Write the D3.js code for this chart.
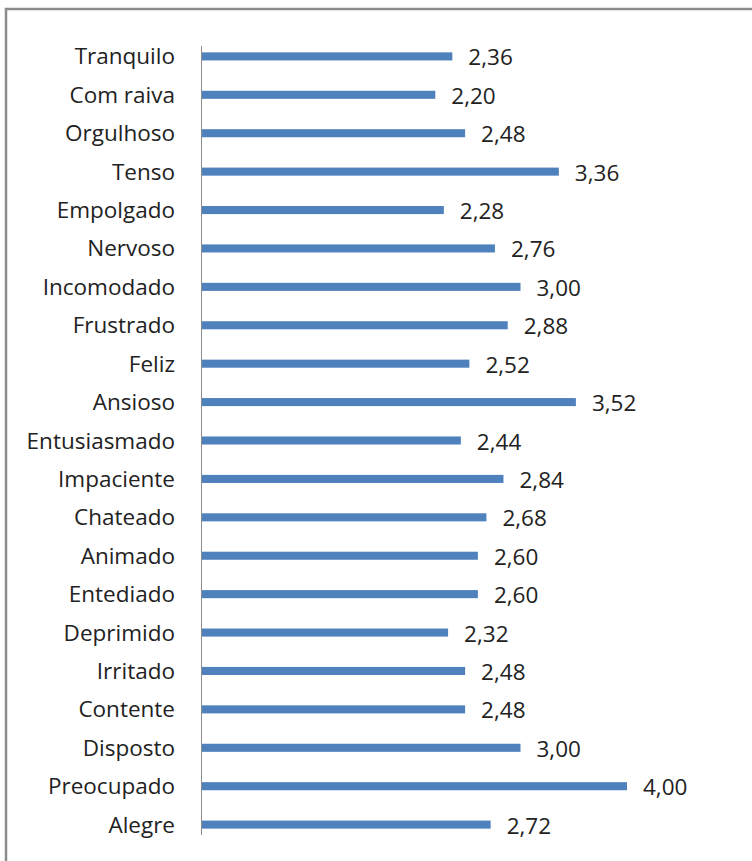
<!DOCTYPE html>
<html>
<head>
<meta charset="utf-8">
<script src="https://cdn.jsdelivr.net/npm/d3@7"></script>
<style>
  html, body { margin: 0; padding: 0; background: #fff; }
  svg { display: block; }
  text { font-family: "Open Sans", Lato, sans-serif; fill: #222; }
</style>
</head>
<body>
<script>
// Emotion categories (top to bottom) and their mean scores
const categories = [
  "Tranquilo", "Com raiva", "Orgulhoso", "Tenso", "Empolgado", "Nervoso",
  "Incomodado", "Frustrado", "Feliz", "Ansioso", "Entusiasmado", "Impaciente",
  "Chateado", "Animado", "Entediado", "Deprimido", "Irritado", "Contente",
  "Disposto", "Preocupado", "Alegre"
];
const values = [
  2.36, 2.20, 2.48, 3.36, 2.28, 2.76,
  3.00, 2.88, 2.52, 3.52, 2.44, 2.84,
  2.68, 2.60, 2.60, 2.32, 2.48, 2.48,
  3.00, 4.00, 2.72
];

const W = 752, H = 861;
const svg = d3.select("body").append("svg").attr("width", W).attr("height", H);

// Chart frame (right and bottom edges fall outside the view)
svg.append("rect")
  .attr("x", 6).attr("y", 9)
  .attr("width", W + 20).attr("height", H + 20)
  .attr("fill", "#fff")
  .attr("stroke", "#8c8c8c").attr("stroke-width", 2.5);

const x0 = 201;
const x = d3.scaleLinear().domain([0, 4]).range([x0, 627]);
const y = d3.scaleBand().domain(categories).range([37, 844]).paddingInner(0.79).paddingOuter(0.4);

const fmt = v => d3.format(".2f")(v).replace(".", ",");

// Bars
svg.append("g").selectAll("rect")
  .data(values)
  .join("rect")
  .attr("x", x(0))
  .attr("y", (d, i) => y(categories[i]))
  .attr("width", d => x(d) - x(0))
  .attr("height", y.bandwidth())
  .attr("fill", "#4f81bd");

// Category axis line
svg.append("line")
  .attr("x1", x0 + 0.5).attr("x2", x0 + 0.5)
  .attr("y1", 46).attr("y2", 835)
  .attr("stroke", "#8c8c8c").attr("stroke-width", 1);

// Category labels
svg.append("g").selectAll("text")
  .data(categories)
  .join("text")
  .attr("x", 175)
  .attr("y", d => y(d) + y.bandwidth() / 2 + 8)
  .attr("text-anchor", "end")
  .attr("font-size", 22.5)
  .text(d => d);

// Value labels
svg.append("g").selectAll("text")
  .data(values)
  .join("text")
  .attr("x", d => x(d) + 16)
  .attr("y", (d, i) => y(categories[i]) + y.bandwidth() / 2 + 9)
  .attr("font-size", 22.5)
  .text(d => fmt(d));
</script>
</body>
</html>
